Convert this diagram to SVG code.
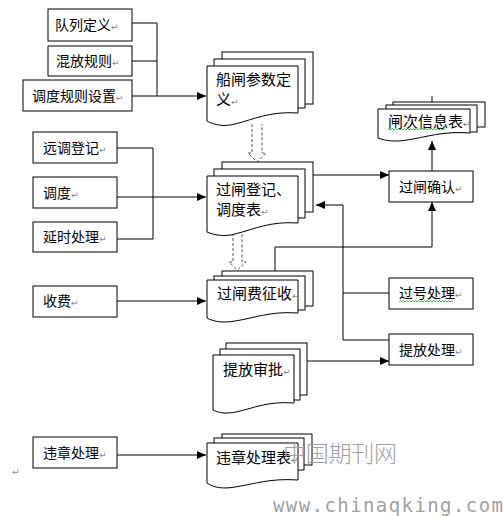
<svg xmlns="http://www.w3.org/2000/svg" width="504" height="516" viewBox="0 0 504 516">
<defs>
<style>
.box rect{fill:#fff;stroke:#000;stroke-width:1}
.pg{fill:#fff;stroke:#000;stroke-width:1}
.t{font-family:"Noto Sans CJK SC","Noto Sans",sans-serif;font-size:14px;fill:#000}
.td{font-family:"Noto Sans CJK SC","Noto Sans",sans-serif;font-size:15px;fill:#000}
.rm{font-family:"DejaVu Sans",sans-serif;font-size:9px;fill:#888}
.ln{fill:none;stroke:#000;stroke-width:1}
.dash{fill:none;stroke:#555;stroke-width:1;stroke-dasharray:3 2}
.wavy{fill:none;stroke:#2a9a2a;stroke-width:0.8}
.wm{font-family:"Noto Sans CJK SC",sans-serif;font-size:23px;font-weight:300;fill:#a0a0a0}
.wm2{font-family:"DejaVu Sans Mono",monospace;font-size:19px;fill:#a0a0a0}
</style>
<marker id="ah" markerWidth="9" markerHeight="8" refX="9" refY="4" orient="auto" markerUnits="userSpaceOnUse"><path d="M0,0 L9,4 L0,8 Z" fill="#000"/></marker>
</defs>
<rect width="504" height="516" fill="#fff"/>

<g id="connectors">
<path class="ln" d="M132,23 H157 M132,61 H157 M157,23 V96"/>
<path class="ln" d="M132,96 H206" marker-end="url(#ah)"/>
<path class="ln" d="M117,148 H153 M117,239 H153 M153,148 V239"/>
<path class="ln" d="M117,197 H206" marker-end="url(#ah)"/>
<path class="ln" d="M117,301 H206" marker-end="url(#ah)"/>
<path class="ln" d="M313,175 H389" marker-end="url(#ah)"/>
<path class="ln" d="M432,171 V141" marker-end="url(#ah)"/>
<path class="ln" d="M275,271 V247 H432 V202" marker-end="url(#ah)"/>
<path class="ln" d="M389,293 H343 M389,340 H343 M343,340 V205 H316" marker-end="url(#ah)"/>
<path class="ln" d="M307,361 H389" marker-end="url(#ah)"/>
<path class="ln" d="M117,455 H206" marker-end="url(#ah)"/>
<path class="dash" d="M252,124 V153 H248 L257,162 L266,153 H262 V124"/>
<path class="dash" d="M233,233 V262 H229 L237.5,270 L246,262 H242 V233"/>
<path class="ln" d="M432,96 V102"/>
</g>

<g id="n-duilie" class="box"><rect x="48" y="9" width="84" height="32"/><text class="t" x="55" y="30">队列定义<tspan class="rm">↵</tspan></text></g>
<g id="n-hunfang" class="box"><rect x="48" y="46" width="84" height="30"/><text class="t" x="56" y="66">混放规则<tspan class="rm">↵</tspan></text></g>
<g id="n-diaoduguize" class="box"><rect x="23" y="80" width="109" height="31"/><text class="t" x="32" y="101">调度规则设置<tspan class="rm">↵</tspan></text></g>

<g id="n-yuandiao" class="box"><rect x="33" y="132" width="84" height="31"/><text class="t" x="43" y="153">远调登记<tspan class="rm">↵</tspan></text></g>
<g id="n-diaodu" class="box"><rect x="33" y="177" width="84" height="31"/><text class="t" x="43" y="198">调度<tspan class="rm">↵</tspan></text></g>
<g id="n-yanshi" class="box"><rect x="33" y="222" width="84" height="30"/><text class="t" x="43" y="242">延时处理<tspan class="rm">↵</tspan></text></g>
<g id="n-shoufei" class="box"><rect x="33" y="286" width="84" height="31"/><text class="t" x="43" y="306">收费<tspan class="rm">↵</tspan></text></g>
<g id="n-weizhang" class="box"><rect x="33" y="437" width="84" height="31"/><text class="t" x="43" y="458">违章处理<tspan class="rm">↵</tspan></text></g>

<g id="n-guozhaqueren" class="box"><rect x="389" y="171" width="84" height="31"/><text class="t" x="399" y="192">过闸确认<tspan class="rm">↵</tspan></text></g>
<g id="n-guohao" class="box"><rect x="389" y="278" width="84" height="31"/><text class="t" x="399" y="298">过号处理<tspan class="rm">↵</tspan></text>
<path class="wavy" d="M399,302 l1.5,-1.5 l1.5,1.5 l1.5,-1.5 l1.5,1.5 l1.5,-1.5 l1.5,1.5 l1.5,-1.5 l1.5,1.5 l1.5,-1.5 l1.5,1.5 l1.5,-1.5 l1.5,1.5 l1.5,-1.5 l1.5,1.5 l1.5,-1.5 l1.5,1.5 l1.5,-1.5 l1.5,1.5 l1.5,-1.5 l1.5,1.5 l1.5,-1.5 l1.5,1.5 l1.5,-1.5 l1.5,1.5 l1.5,-1.5 l1.5,1.5 l1.5,-1.5 l1.5,1.5 l1.5,-1.5 l1.5,1.5 l1.5,-1.5 l1.5,1.5 l1.5,-1.5 l1.5,1.5 l1.5,-1.5 l1.5,1.5"/></g>
<g id="n-tifangchuli" class="box"><rect x="389" y="334" width="84" height="31"/><text class="t" x="399" y="355">提放处理<tspan class="rm">↵</tspan></text></g>

<g id="d-chuanzha">
<rect class="pg" x="222" y="52" width="91" height="52"/>
<rect class="pg" x="214" y="59" width="91" height="49"/>
<path class="pg" d="M207,66 H298 V113 C270,111 255,119 235,124 C224,127 214,125 207,121 Z"/>
<text class="td" x="216" y="85">船闸参数定</text>
<text class="td" x="216" y="105">义<tspan class="rm">↵</tspan></text>
</g>

<g id="d-guozhadengji">
<rect class="pg" x="222" y="162" width="91" height="50"/>
<rect class="pg" x="214" y="169" width="91" height="49"/>
<path class="pg" d="M207,176 H298 V223 C270,221 255,229 235,234 C224,237 214,235 207,232 Z"/>
<text class="td" x="216" y="195">过闸登记、</text>
<text class="td" x="216" y="215">调度表<tspan class="rm">↵</tspan></text>
</g>

<g id="d-guozhafei">
<rect class="pg" x="222" y="271" width="91" height="35"/>
<rect class="pg" x="214" y="276" width="91" height="34"/>
<path class="pg" d="M207,280 H298 V313 C270,311 255,318 235,321 C224,323 214,322 207,318 Z"/>
<text class="td" x="217" y="299">过闸费征收<tspan class="rm">↵</tspan></text>
</g>

<g id="d-tifangshenpi">
<rect class="pg" x="226" y="343" width="81" height="52"/>
<rect class="pg" x="220" y="349" width="80" height="51"/>
<path class="pg" d="M213,355 H294 V403 C268,401 254,408 236,412 C226,414 219,413 213,410 Z"/>
<text class="td" x="223" y="375">提放审批<tspan class="rm">↵</tspan></text>
</g>

<g id="d-weizhangbiao">
<rect class="pg" x="222" y="434" width="90" height="31"/>
<rect class="pg" x="214" y="438" width="90" height="32"/>
<path class="pg" d="M207,443 H298 V480 C270,478 255,484 235,487 C224,489 214,488 207,483 Z"/>
<text class="td" x="216" y="463">违章处理表<tspan class="rm">↵</tspan></text>
</g>

<g id="d-zhaci">
<rect class="pg" x="393" y="102" width="92" height="25"/>
<rect class="pg" x="386" y="105" width="91" height="27"/>
<path class="pg" d="M378,109 H470 V133 C442,131 427,137 407,140 C396,142 386,141 378,138 Z"/>
<text class="td" x="388" y="127">闸次信息表<tspan class="rm">↵</tspan></text>
<path class="wavy" d="M388,130 l1.5,-1.5 l1.5,1.5 l1.5,-1.5 l1.5,1.5 l1.5,-1.5 l1.5,1.5 l1.5,-1.5 l1.5,1.5 l1.5,-1.5 l1.5,1.5 l1.5,-1.5 l1.5,1.5 l1.5,-1.5 l1.5,1.5 l1.5,-1.5 l1.5,1.5 l1.5,-1.5 l1.5,1.5 l1.5,-1.5 l1.5,1.5 l1.5,-1.5 l1.5,1.5 l1.5,-1.5 l1.5,1.5 l1.5,-1.5 l1.5,1.5 l1.5,-1.5 l1.5,1.5 l1.5,-1.5 l1.5,1.5 l1.5,-1.5 l1.5,1.5 l1.5,-1.5 l1.5,1.5 l1.5,-1.5 l1.5,1.5 l1.5,-1.5 l1.5,1.5"/>
</g>

<text class="rm" x="12" y="475">↵</text>
<text class="wm" x="283" y="462" textLength="114" lengthAdjust="spacing">中国期刊网</text>
<text class="wm2" x="273" y="512" textLength="230" lengthAdjust="spacing">www.chinaqking.com</text>
</svg>
